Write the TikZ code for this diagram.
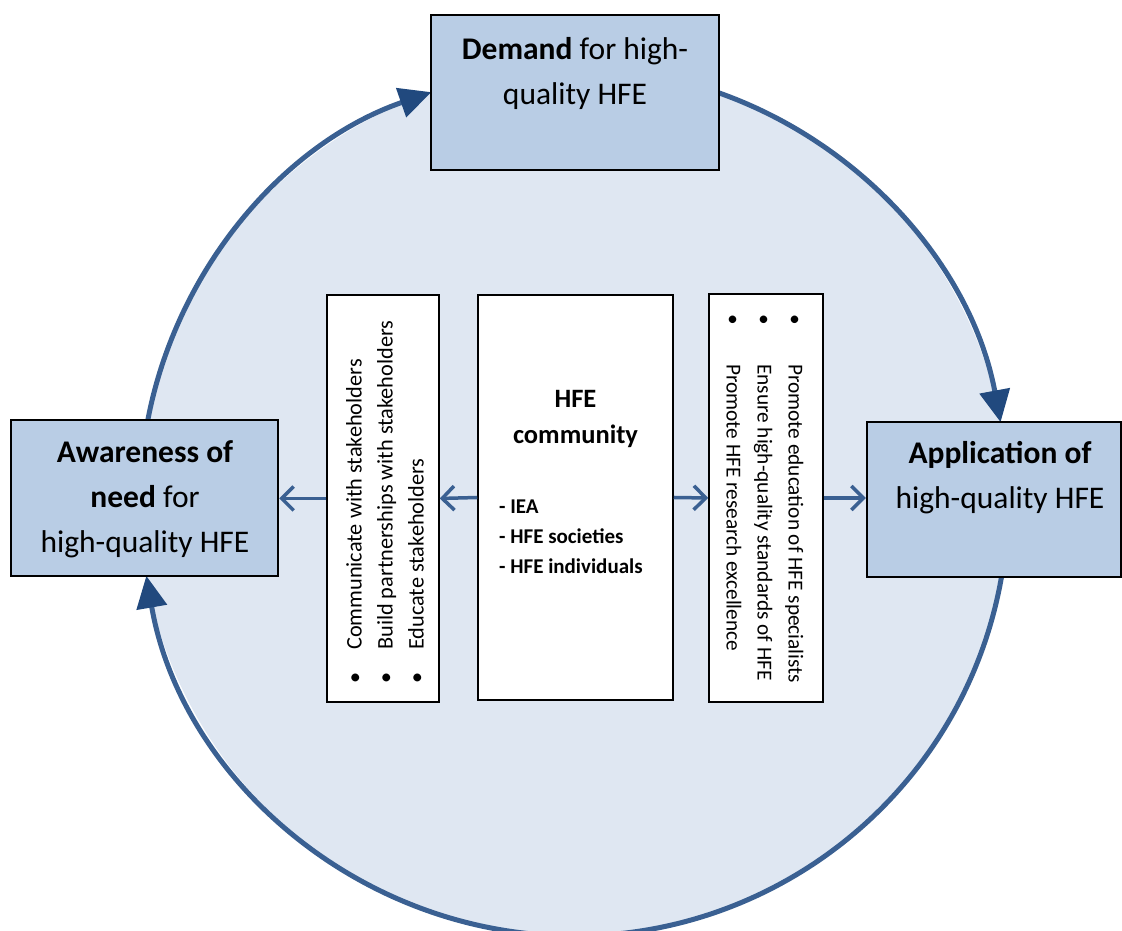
\documentclass[tikz,border=0pt]{standalone}
\usepackage{fontspec}
\setmainfont{Carlito}
\usetikzlibrary{arrows.meta,calc}

\definecolor{ringfill}{RGB}{223,231,242}
\definecolor{ringline}{RGB}{58,96,146}
\definecolor{tipblue}{RGB}{33,73,126}
\definecolor{boxfill}{RGB}{185,205,229}

\tikzset{
    bigbox/.style={draw=black, line width=2.5pt, fill=boxfill, inner sep=0pt},
    listbox/.style={draw=black, line width=1.5pt, fill=white, inner sep=0pt},
    ring/.style={line width=5pt, draw=ringline, -{Triangle[length=32pt,width=30pt,color=tipblue]}},
    link/.style={line width=3.5pt, draw=ringline, -{Straight Barb[length=12pt,width=24pt]}},
    bigtext/.style={align=center, inner sep=0pt, font=\fontsize{31.5}{45}\selectfont},
}

\begin{document}
\begin{tikzpicture}[x=1pt, y=1pt]
    \useasboundingbox (0,0) rectangle (1122,931);
    % Cycle
    \coordinate (ctr) at (574,429);
    \fill[ringfill] (ctr) circle[radius=434];
    \draw[ring] ($(ctr)+(171:434)$) arc[start angle=171, end angle=109.2, radius=434];
    \draw[ring] ($(ctr)+(72:434)$) arc[start angle=72, end angle=10.6, radius=434];
    \draw[ring] ($(ctr)+(-8:434)$) arc[start angle=-8, end angle=-170.2, radius=434];
    % Outer boxes
    \node[bigbox, minimum width=288, minimum height=155] (demand) at (575,838.5) {};
    \node[bigbox, minimum width=267, minimum height=156] (aware) at (144.5,433) {};
    \node[bigbox, minimum width=254, minimum height=155] (app) at (994,431.5) {};
    \node[bigtext] (demandtxt) at (575,858) {\textbf{Demand} for high-\\quality HFE};
    \node[bigtext] (awaretxt) at (145,432) {\textbf{Awareness of}\\\textbf{need} for\\high-quality HFE};
    \node[bigtext] (apptxt) at (1000,453) {\textbf{Application of}\\high-quality HFE};
    % Inner boxes
    \node[listbox, minimum width=112, minimum height=407] (lefts) at (383,432.5) {};
    \node[listbox, minimum width=195, minimum height=405] (hfe) at (575.5,433.5) {};
    \node[listbox, minimum width=114, minimum height=408] (rights) at (766,433) {};
    \node[align=center, inner sep=0pt, font=\fontsize{26.5}{36}\selectfont\bfseries] (hfetitle) at (575.5,512) {HFE\\community};
    \node[align=left, inner sep=0pt, anchor=north west, font=\fontsize{21}{30}\selectfont\bfseries] (hfelist) at (499,431.5)
        {- IEA\\- HFE societies\\- HFE individuals};
    \node[align=left, inner sep=0pt, rotate=90, anchor=west, font=\fontsize{22.3}{31}\selectfont] (leftitems) at (385,247)
        {\makebox[34pt][l]{\textbullet}Communicate with stakeholders\\
         \makebox[34pt][l]{\textbullet}Build partnerships with stakeholders\\
         \makebox[34pt][l]{\textbullet}Educate stakeholders};
    \node[align=left, inner sep=0pt, rotate=-90, anchor=west, font=\fontsize{21.3}{31}\selectfont] (rightitems) at (765,617)
        {\makebox[50pt][l]{\textbullet}Promote education of HFE specialists\\
         \makebox[50pt][l]{\textbullet}Ensure high-quality standards of HFE\\
         \makebox[50pt][l]{\textbullet}Promote HFE research excellence};
    % Links
    \draw[link] (hfe.west) -- (lefts.east);
    \draw[link] (lefts.west) -- (lefts.west -| aware.east);
    \draw[link] (hfe.east) -- (rights.west);
    \draw[link] (rights.east) -- (rights.east -| app.west);
\end{tikzpicture}
\end{document}
